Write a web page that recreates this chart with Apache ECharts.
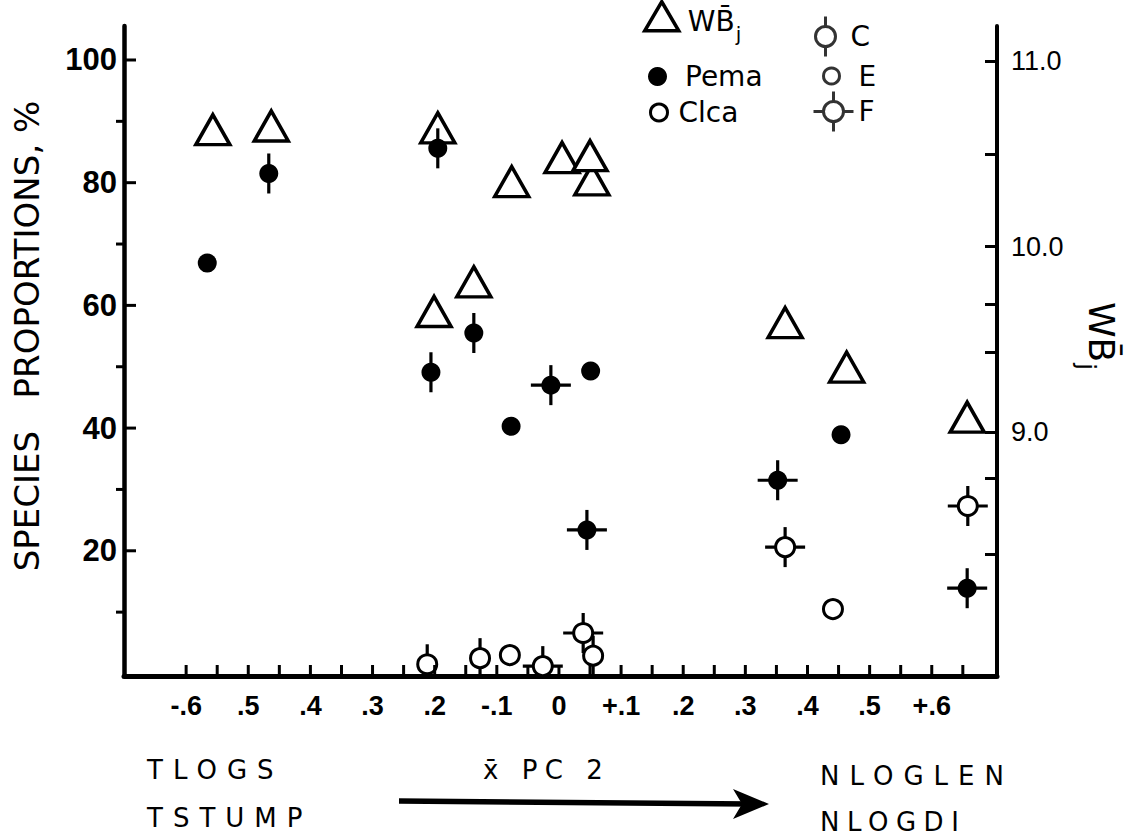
<!DOCTYPE html>
<html>
<head>
<meta charset="utf-8">
<script src="https://cdn.jsdelivr.net/npm/echarts@6/dist/echarts.min.js"></script>
<style>
html, body { margin: 0; padding: 0; background: #fff; }
#chart { width: 1124px; height: 838px; }
#chart text[style*="SpA"] { letter-spacing: 10px; }
#chart text[style*="SpB"] { letter-spacing: 7.5px; }
</style>
</head>
<body>
<div id="chart"></div>
<script>
// ---- axis ticks and labels ----
const xLabelValues = [-0.6, -0.5, -0.4, -0.3, -0.2, -0.1, 0, 0.1, 0.2, 0.3, 0.4, 0.5, 0.6];
const xLabelTexts = ['-.6', '.5', '.4', '.3', '.2', '-.1', '0', '+.1', '.2', '.3', '.4', '.5', '+.6'];
const xTickValues = [-0.6, -0.55, -0.5, -0.45, -0.4, -0.35, -0.3, -0.25, -0.2, -0.15, -0.1, -0.05, 0,
                     0.05, 0.1, 0.15, 0.2, 0.25, 0.3, 0.35, 0.4, 0.45, 0.5, 0.55, 0.6, 0.65];
const leftLabelValues = [20, 40, 60, 80, 100];
const leftMinorTicks = [10, 30, 50, 70, 90];
const rightLabelValues = [9, 10, 11];
const rightTickValues = [8.34, 8.75, 9, 9.43, 9.69, 10, 10.5, 11];

// ---- data: WBj (right axis) ----
const wbX = [-0.557, -0.463, -0.195, -0.076, 0.005, 0.053, 0.050, -0.201, -0.137, 0.364, 0.463, 0.657];
const wbY = [10.63, 10.65, 10.64, 10.35, 10.48, 10.36, 10.49, 9.65, 9.81, 9.59, 9.35, 9.08];

// ---- data: Pema (filled circles, left axis) ----
const pemaX = [-0.566, -0.467, -0.195, -0.206, -0.137, -0.077, -0.013, 0.051, 0.045, 0.352, 0.454, 0.657];
const pemaY = [66.9, 81.5, 85.6, 49.1, 55.5, 40.3, 47.0, 49.3, 23.4, 31.5, 38.9, 13.9];
const pemaType = ['E', 'C', 'C', 'C', 'C', 'E', 'F', 'E', 'F', 'F', 'E', 'F'];

// ---- data: Clca (open circles, left axis) ----
const clcaX = [0.364, 0.441, 0.658, -0.212, -0.127, -0.079, -0.026, 0.039, 0.055];
const clcaY = [20.6, 10.5, 27.3, 1.5, 2.5, 3.0, 1.2, 6.6, 2.9];
const clcaType = ['F', 'E', 'F', 'C', 'C', 'E', 'F', 'F', 'C'];

const BLACK = '#000';
const X_MIN = -0.7, X_MAX = 0.705;
const L_MIN = -0.41, L_MAX = 105.54;
const R_MIN = 7.685, R_MAX = 11.189;

function markRenderer(types, filled) {
  return function (params, api) {
    const p = api.coord([api.value(0), api.value(1)]);
    const t = types[params.dataIndex];
    const ls = { stroke: BLACK, lineWidth: 3.2 };
    const children = [];
    if (t === 'C' || t === 'F') {
      children.push({ type: 'line', shape: { x1: p[0], y1: p[1] - 20, x2: p[0], y2: p[1] + 20 }, style: ls });
    }
    if (t === 'F') {
      children.push({ type: 'line', shape: { x1: p[0] - 20, y1: p[1], x2: p[0] + 20, y2: p[1] }, style: ls });
    }
    children.push({
      type: 'circle',
      shape: { cx: p[0], cy: p[1], r: 9.5 },
      style: filled ? { fill: BLACK } : { fill: '#fff', stroke: BLACK, lineWidth: 3 }
    });
    return { type: 'group', children: children };
  };
}

// tick marks drawn at axis values through the chart's scales (dx, dy = tick direction and length)
function tickRenderer(dx, dy) {
  return function (params, api) {
    const p = api.coord([api.value(0), api.value(1)]);
    return {
      type: 'line',
      shape: { x1: p[0], y1: p[1], x2: p[0] + dx, y2: p[1] + dy },
      style: { stroke: BLACK, lineWidth: 3 }
    };
  };
}

const iconC = 'path://M12,0L12,10M22,20A10,10,0,1,1,2,20A10,10,0,1,1,22,20ZM12,30L12,40';
const iconF = 'path://M20,0L20,10M30,20A10,10,0,1,1,10,20A10,10,0,1,1,30,20ZM20,30L20,40M0,20L10,20M30,20L40,20';
const openStyle = { color: '#fff', borderColor: BLACK, borderWidth: 3 };

function legendText(padLeft) {
  return { fontFamily: 'DejaVu Sans', fontSize: 28, color: BLACK, padding: [0, 0, 0, padLeft] };
}
const wbRich = {
  a: { fontFamily: 'DejaVu Sans', fontSize: 28, color: BLACK, padding: [10, 0, 0, 4] },
  b: { fontFamily: 'DejaVu Sans', fontSize: 20, color: BLACK, padding: [36, 0, 0, 1] }
};

const chart = echarts.init(document.getElementById('chart'), null, { renderer: 'svg' });
chart.setOption({
  animation: false,
  backgroundColor: '#fff',
  grid: { left: 124, right: 127, top: 26, bottom: 162, containLabel: false, outerBoundsMode: 'none' },
  xAxis: {
    type: 'value', min: X_MIN, max: X_MAX, position: 'bottom',
    axisLine: { show: true, onZero: false, lineStyle: { color: BLACK, width: 5 } },
    axisTick: { show: false },
    axisLabel: {
      customValues: xLabelValues,
      formatter: function (v) { return xLabelTexts[Math.round(v * 10) + 6]; },
      color: BLACK, fontFamily: 'Liberation Sans', fontWeight: 'bold', fontSize: 27, margin: 16
    },
    splitLine: { show: false }
  },
  yAxis: [
    {
      type: 'value', position: 'left', min: L_MIN, max: L_MAX,
      axisLine: { show: true, onZero: false, lineStyle: { color: BLACK, width: 4.5 } },
      axisTick: { show: false },
      axisLabel: { customValues: leftLabelValues, color: BLACK, fontFamily: 'Liberation Sans', fontWeight: 'bold', fontSize: 31, margin: 7 },
      splitLine: { show: false },
      name: 'SPECIES   PROPORTIONS, %', nameLocation: 'middle', nameRotate: 90, nameGap: 80,
      nameTextStyle: { fontFamily: 'DejaVu Sans', fontSize: 34, color: BLACK, padding: [0, 0, 0, 30] }
    },
    {
      type: 'value', position: 'right', min: R_MIN, max: R_MAX,
      axisLine: { show: true, onZero: false, lineStyle: { color: BLACK, width: 4 } },
      axisTick: { show: true, inside: true, length: 12, customValues: rightTickValues, lineStyle: { color: BLACK, width: 3 } },
      axisLabel: {
        customValues: rightLabelValues,
        formatter: function (v) { return v.toFixed(1); },
        color: BLACK, fontFamily: 'Liberation Sans', fontSize: 27, margin: 14
      },
      splitLine: { show: false },
      name: '{a|WB\u0304}{b|j}', nameLocation: 'middle', nameRotate: -90, nameGap: 50,
      nameTextStyle: {
        padding: [0, 30, 0, 0],
        rich: {
          a: { fontFamily: 'DejaVu Sans', fontSize: 36, color: BLACK, padding: [12, 0, 0, 0] },
          b: { fontFamily: 'DejaVu Sans', fontSize: 25, color: BLACK, padding: [42, 0, 0, 1] }
        }
      }
    }
  ],
  legend: [
    {
      data: [{ name: 'WBj', icon: 'triangle', itemStyle: { color: '#fff', borderColor: BLACK, borderWidth: 3.5 } }],
      left: 643, top: 0, padding: 0, itemWidth: 34, itemHeight: 29, selectedMode: false,
      formatter: function () { return '{a|WB\u0304}{b|j}'; },
      textStyle: { rich: wbRich }
    },
    {
      data: [{ name: 'Pema', icon: 'circle', itemStyle: { color: BLACK, borderWidth: 0 } }],
      left: 648, top: 62.5, padding: 0, itemWidth: 19, itemHeight: 19, selectedMode: false, textStyle: legendText(13)
    },
    {
      data: [{ name: 'Clca', icon: 'circle', itemStyle: openStyle }],
      left: 649, top: 98.5, padding: 0, itemWidth: 17, itemHeight: 17, selectedMode: false, textStyle: legendText(6)
    },
    {
      data: [{ name: 'C', icon: iconC, itemStyle: openStyle }],
      left: 814, top: 15, padding: 0, itemWidth: 32, itemHeight: 40, selectedMode: false, textStyle: legendText(4)
    },
    {
      data: [{ name: 'E', icon: 'circle', itemStyle: openStyle }],
      left: 822, top: 62, padding: 0, itemWidth: 16, itemHeight: 16, selectedMode: false, textStyle: legendText(14)
    },
    {
      data: [{ name: 'F', icon: iconF, itemStyle: openStyle }],
      left: 812, top: 90, padding: 0, itemWidth: 40, itemHeight: 40, selectedMode: false, textStyle: legendText(0)
    }
  ],
  series: [
    {
      name: 'WBj', type: 'scatter', yAxisIndex: 1, symbol: 'triangle', symbolSize: [34, 30], z: 2,
      itemStyle: { color: '#fff', borderColor: BLACK, borderWidth: 3.5, opacity: 1 },
      emphasis: { disabled: true },
      data: wbX.map(function (x, i) { return [x, wbY[i]]; })
    },
    {
      name: 'Pema', type: 'custom', yAxisIndex: 0, z: 3, clip: true,
      itemStyle: { color: BLACK },
      renderItem: markRenderer(pemaType, true),
      data: pemaX.map(function (x, i) { return [x, pemaY[i]]; })
    },
    {
      name: 'Clca', type: 'custom', yAxisIndex: 0, z: 3, clip: true,
      itemStyle: { color: '#fff' },
      renderItem: markRenderer(clcaType, false),
      data: clcaX.map(function (x, i) { return [x, clcaY[i]]; })
    },
    {
      name: 'xTicks', type: 'custom', yAxisIndex: 0, z: 4, clip: false, silent: true,
      renderItem: tickRenderer(0, -11),
      data: xTickValues.map(function (v) { return [v, L_MIN]; })
    },
    {
      name: 'leftTicks', type: 'custom', yAxisIndex: 0, z: 4, clip: false, silent: true,
      renderItem: tickRenderer(12, 0),
      data: leftLabelValues.map(function (v) { return [X_MIN, v]; })
    },
    {
      name: 'leftMinorTicks', type: 'custom', yAxisIndex: 0, z: 4, clip: false, silent: true,
      renderItem: tickRenderer(-8, 0),
      data: leftMinorTicks.map(function (v) { return [X_MIN, v]; })
    },
    { name: 'C', type: 'scatter', data: [] },
    { name: 'E', type: 'scatter', data: [] },
    { name: 'F', type: 'scatter', data: [] }
  ],
  graphic: [
    { type: 'text', x: 147, y: 770, style: { text: 'TLOGS', fontFamily: 'SpA, DejaVu Sans, sans-serif', fontSize: 26, fill: BLACK, verticalAlign: 'middle', textVerticalAlign: 'middle' } },
    { type: 'text', x: 147, y: 818, style: { text: 'TSTUMP', fontFamily: 'SpA, DejaVu Sans, sans-serif', fontSize: 26, fill: BLACK, verticalAlign: 'middle', textVerticalAlign: 'middle' } },
    { type: 'text', x: 483, y: 770, style: { text: 'x\u0304 PC 2', fontFamily: 'SpB, DejaVu Sans, sans-serif', fontSize: 26, fill: BLACK, verticalAlign: 'middle', textVerticalAlign: 'middle' } },
    { type: 'text', x: 820, y: 776, style: { text: 'NLOGLEN', fontFamily: 'SpA, DejaVu Sans, sans-serif', fontSize: 26, fill: BLACK, verticalAlign: 'middle', textVerticalAlign: 'middle' } },
    { type: 'text', x: 820, y: 822, style: { text: 'NLOGDI', fontFamily: 'SpB, DejaVu Sans, sans-serif', fontSize: 26, fill: BLACK, verticalAlign: 'middle', textVerticalAlign: 'middle' } },
    { type: 'polyline', shape: { points: [[399, 801], [750, 804]] }, style: { stroke: BLACK, lineWidth: 5.5, fill: null } },
    { type: 'polygon', shape: { points: [[733, 789], [769, 804], [733, 819], [742, 804]] }, style: { fill: BLACK } }
  ]
});
</script>
</body>
</html>
